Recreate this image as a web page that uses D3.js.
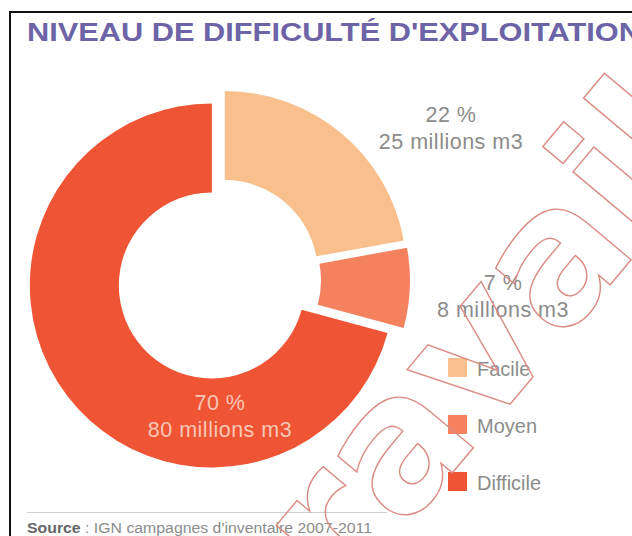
<!DOCTYPE html>
<html>
<head>
<meta charset="utf-8">
<script src="https://cdn.jsdelivr.net/npm/d3@7"></script>
<style>
	html, body { margin: 0; padding: 0; background: #fff; }
	svg { display: block; font-family: "Liberation Sans", Arial, sans-serif; }
</style>
</head>
<body>
<div id="chart"></div>
<script>
/* global d3 */

var categories = ["Facile", "Moyen", "Difficile"],
	volumes = [25, 8, 80],
	percentLabels = ["22 %", "7 %", "70 %"],
	volumeLabels = ["25 millions m3", "8 millions m3", "80 millions m3"],
	colors = ["#f9bf8d", "#f5825e", "#ef5434"],
	title = "NIVEAU DE DIFFICULTÉ D'EXPLOITATION",
	sourceLabel = "Source",
	sourceText = " : IGN campagnes d'inventaire 2007-2011",
	watermark = "travail";

(function() {
	'use strict';

	var width = 632,
		height = 536,
		center = { x: 219, y: 280 },
		outerR = 182,
		innerR = 93,
		explode = 9,
		// label anchors, hand placed like the original
		labelPos = [
			{ x: 451, y: 122, fill: "#8c8c8c" },
			{ x: 503, y: 290, fill: "#8c8c8c" },
			{ x: 220, y: 410, fill: "#f9c6b4" }
		],
		legend = { x: 448, top: 358, step: 57, box: 19 };

	var svg = d3.select("#chart").append("svg")
		.attr("width", width)
		.attr("height", height);

	// frame
	svg.append("path")
		.attr("d", "M10," + height + "V12H" + width)
		.attr("fill", "none")
		.attr("stroke", "#111")
		.attr("stroke-width", 2);

	svg.append("text")
		.attr("x", 27)
		.attr("y", 41)
		.attr("font-size", 26)
		.attr("font-weight", "bold")
		.attr("fill", "#6d64a8")
		.attr("textLength", 614)
		.attr("lengthAdjust", "spacingAndGlyphs")
		.text(title);

	var pie = d3.pie().sort(null).startAngle(0).endAngle(2 * Math.PI),
		arcs = pie(volumes),
		arc = d3.arc().innerRadius(innerR).outerRadius(outerR);

	var g = svg.append("g")
		.attr("transform", "translate(" + center.x + "," + center.y + ")");

	g.selectAll("path.slice")
		.data(arcs)
		.join("path")
		.attr("class", "slice")
		.attr("fill", function(d, i) { return colors[i]; })
		.attr("transform", function(d) {
			var mid = (d.startAngle + d.endAngle) / 2;
			return "translate(" + (Math.sin(mid) * explode) + "," + (-Math.cos(mid) * explode) + ")";
		})
		.attr("d", arc);

	var labels = svg.append("g")
		.attr("font-size", 21.5)
		.attr("letter-spacing", 0.5)
		.attr("text-anchor", "middle");

	labels.selectAll("text.pct")
		.data(categories)
		.join("text")
		.attr("class", "pct")
		.attr("x", function(d, i) { return labelPos[i].x; })
		.attr("y", function(d, i) { return labelPos[i].y; })
		.attr("fill", function(d, i) { return labelPos[i].fill; })
		.text(function(d, i) { return percentLabels[i]; });

	labels.selectAll("text.vol")
		.data(categories)
		.join("text")
		.attr("class", "vol")
		.attr("x", function(d, i) { return labelPos[i].x; })
		.attr("y", function(d, i) { return labelPos[i].y + 27; })
		.attr("fill", function(d, i) { return labelPos[i].fill; })
		.text(function(d, i) { return volumeLabels[i]; });

	// legend
	var ly = d3.scalePoint()
		.domain(categories)
		.range([legend.top, legend.top + legend.step * (categories.length - 1)]);

	var items = svg.append("g").selectAll("g")
		.data(categories)
		.join("g")
		.attr("transform", function(d) { return "translate(" + legend.x + "," + ly(d) + ")"; });

	items.append("rect")
		.attr("width", legend.box)
		.attr("height", legend.box)
		.attr("fill", function(d, i) { return colors[i]; });

	items.append("text")
		.attr("x", 29)
		.attr("y", 18)
		.attr("font-size", 20)
		.attr("fill", "#8c8c8c")
		.text(function(d) { return d; });

	// source
	svg.append("line")
		.attr("x1", 27).attr("x2", 387)
		.attr("y1", 512.5).attr("y2", 512.5)
		.attr("stroke", "#cfcfcf");

	var src = svg.append("text")
		.attr("x", 27)
		.attr("y", 533)
		.attr("font-size", 14)
		.attr("fill", "#8c8c8c")
		.attr("textLength", 345)
		.attr("lengthAdjust", "spacingAndGlyphs");
	src.append("tspan").attr("font-weight", "bold").attr("fill", "#666").text(sourceLabel);
	src.append("tspan").text(sourceText);

	// watermark over everything
	svg.append("text")
		.attr("transform", "translate(287,670) rotate(-50)")
		.attr("font-family", "'DejaVu Sans', sans-serif")
		.attr("font-size", 185)
		.attr("font-weight", "bold")
		.attr("fill", "none")
		.attr("stroke", "#da8c84")
		.attr("stroke-width", 1.4)
		.text(watermark);
})();
</script>
</body>
</html>
